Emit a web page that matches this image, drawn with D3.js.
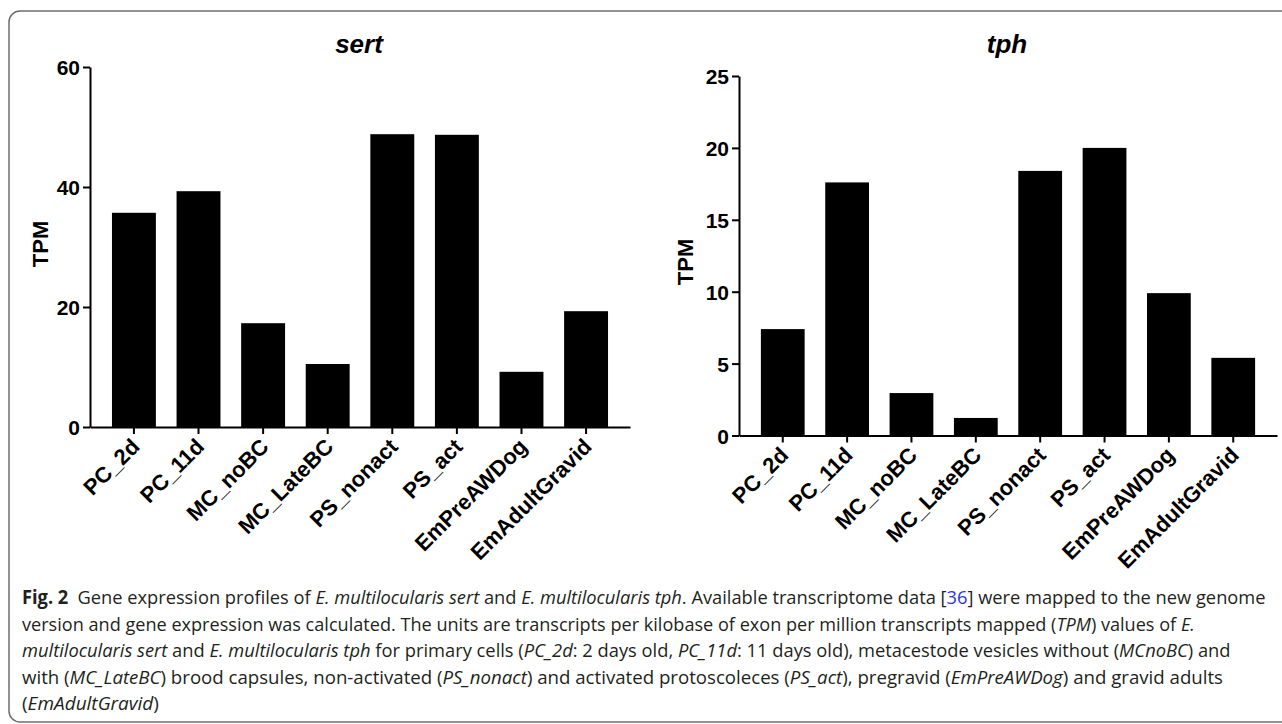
<!DOCTYPE html>
<meta charset="utf-8">
<style>
    body { margin: 0; background: #fff; }
    .axis path, .axis line { stroke: #000; stroke-width: 2px; }
    .ytick text { font-family: "Liberation Sans", Arial, sans-serif; font-weight: bold; font-size: 21px; }
    .xtick text { font-family: "Liberation Sans", Arial, sans-serif; font-weight: bold; font-size: 22px; }
    .title { font-family: "Liberation Sans", Arial, sans-serif; font-weight: bold; font-style: italic; font-size: 26px; }
    .ylab { font-family: "Liberation Sans", Arial, sans-serif; font-weight: bold; font-size: 22px; }
    .cap { font-family: "Open Sans", "Noto Sans", sans-serif; font-size: 19px; fill: #231f20; }
</style>
<body>
<div id="d3_target"></div>
<script src="https://cdnjs.cloudflare.com/ajax/libs/d3/7.8.5/d3.min.js"></script>
<script>
    var categories = ["PC_2d", "PC_11d", "MC_noBC", "MC_LateBC", "PS_nonact", "PS_act", "EmPreAWDog", "EmAdultGravid"];
    var sertValues = [35.7, 39.3, 17.3, 10.5, 48.8, 48.7, 9.2, 19.3];
    var tphValues = [7.4, 17.6, 2.95, 1.22, 18.4, 20.0, 9.9, 5.4];
    var sertTicks = [0, 20, 40, 60];
    var tphTicks = [0, 5, 10, 15, 20, 25];

    var width = 1282,
        height = 724;

    var svg = d3.select("#d3_target").append("svg")
        .attr("width", width)
        .attr("height", height);

    // outer frame (rounded, runs off right edge)
    svg.append("rect")
        .attr("x", 9).attr("y", 11)
        .attr("width", 1320).attr("height", 711)
        .attr("rx", 11)
        .attr("fill", "none")
        .attr("stroke", "#6d6d6d")
        .attr("stroke-width", 1.5);

    function drawPanel(opts) {
        var g = svg.append("g");

        var x = d3.scaleBand()
            .domain(categories)
            .range([opts.x0, opts.x1])
            .paddingInner(0.32)
            .paddingOuter(0.34);

        var y = d3.scaleLinear()
            .domain([0, opts.max])
            .range([opts.y0, opts.ytop]);

        // bars
        g.selectAll(".bar")
            .data(opts.values)
            .enter().append("rect")
            .attr("class", "bar")
            .attr("x", function (d, i) { return x(categories[i]); })
            .attr("width", x.bandwidth())
            .attr("y", function (d) { return y(d); })
            .attr("height", function (d) { return y(0) - y(d); })
            .attr("fill", "#000");

        // y axis
        var ya = g.append("g")
            .attr("class", "axis ytick")
            .attr("transform", "translate(" + opts.x0 + ",0)")
            .call(d3.axisLeft(y).tickValues(opts.ticks).tickSize(7).tickSizeOuter(0).tickPadding(3));
        ya.selectAll("text").attr("fill", "#000").attr("dy", "0.36em");

        // x axis
        var xa = g.append("g")
            .attr("class", "axis xtick")
            .attr("transform", "translate(0," + opts.y0 + ")")
            .call(d3.axisBottom(x).tickSize(7).tickSizeOuter(0));
        xa.selectAll("text")
            .attr("fill", "#000")
            .attr("text-anchor", "end")
            .attr("dy", null)
            .attr("y", 0)
            .attr("transform", "translate(7,21) rotate(-45)");

        // title
        g.append("text")
            .attr("class", "title")
            .attr("x", opts.titleX)
            .attr("y", 53)
            .attr("text-anchor", "middle")
            .text(opts.title);

        // y label
        g.append("text")
            .attr("class", "ylab")
            .attr("transform", "translate(" + opts.labX + "," + opts.labY + ") rotate(-90)")
            .attr("text-anchor", "middle")
            .text("TPM");
    }

    drawPanel({
        values: sertValues, ticks: sertTicks, max: 60, title: "sert",
        x0: 90, x1: 630, y0: 427, ytop: 67, titleX: 359, labX: 48, labY: 244
    });
    drawPanel({
        values: tphValues, ticks: tphTicks, max: 25, title: "tph",
        x0: 739, x1: 1277, y0: 435.5, ytop: 76, titleX: 1007, labX: 693, labY: 262
    });

    // caption: each line is a list of [text, style] pieces
    var captionLines = [
        [["Fig. 2", "b"], ["\u2002Gene expression profiles of ", ""], ["E. multilocularis sert", "i"], [" and ", ""], ["E. multilocularis tph", "i"], [". Available transcriptome data [", ""], ["36", "link"], ["] were mapped to the new genome", ""]],
        [["version and gene expression was calculated. The units are transcripts per kilobase of exon per million transcripts mapped (", ""], ["TPM", "i"], [") values of ", ""], ["E.", "i"]],
        [["multilocularis sert", "i"], [" and ", ""], ["E. multilocularis tph", "i"], [" for primary cells (", ""], ["PC_2d", "i"], [": 2 days old, ", ""], ["PC_11d", "i"], [": 11 days old), metacestode vesicles without (", ""], ["MCnoBC", "i"], [") and", ""]],
        [["with (", ""], ["MC_LateBC", "i"], [") brood capsules, non-activated (", ""], ["PS_nonact", "i"], [") and activated protoscoleces (", ""], ["PS_act", "i"], ["), pregravid (", ""], ["EmPreAWDog", "i"], [") and gravid adults", ""]],
        [["(", ""], ["EmAdultGravid", "i"], [")", ""]]
    ];
    var captionRight = [1267, 1196, 1231, 1224, 159];
    var captionBase = [604, 630.5, 657, 683.5, 710];
    var capX = 22;

    captionLines.forEach(function (line, li) {
        var lg = svg.append("g");
        var t = lg.append("text").attr("class", "cap").attr("x", 0).attr("y", 0);
        line.forEach(function (p) {
            var ts = t.append("tspan").text(p[0]);
            if (p[1] === "b") ts.attr("font-weight", "bold");
            if (p[1] === "i") ts.attr("font-style", "italic");
            if (p[1] === "link") ts.attr("fill", "#2b35d8");
        });
        var w = t.node().getComputedTextLength();
        var sx = (captionRight[li] - capX) / w;
        lg.attr("transform", "translate(" + capX + "," + captionBase[li] + ") scale(" + sx + ",1)");
    });
</script>
